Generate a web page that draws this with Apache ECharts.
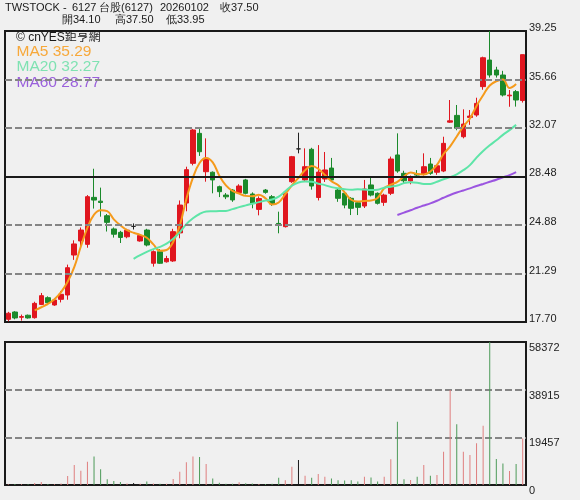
<!DOCTYPE html>
<html><head><meta charset="utf-8">
<script src="https://cdn.jsdelivr.net/npm/echarts@6/dist/echarts.min.js"></script>
<style>html,body{margin:0;padding:0;background:#f0f0f0;}#c{width:580px;height:500px;}</style>
</head><body><div id="c"></div>
<script>
// ---- data ----
const opens  = [17.90,18.44,18.05,18.20,18.02,19.00,19.50,18.96,19.38,19.70,22.66,23.70,23.45,26.93,26.65,25.57,24.59,24.34,24.01,24.78,23.70,24.51,22.05,22.91,22.16,22.22,24.30,26.51,29.45,31.67,28.83,28.79,27.72,27.10,27.47,27.28,28.22,27.18,26.04,27.47,26.98,25.00,24.76,28.09,30.52,28.22,30.49,26.92,28.29,29.10,27.47,27.23,26.86,26.53,26.29,27.85,27.23,26.56,27.23,30.07,28.71,28.14,28.65,28.64,29.40,28.79,28.88,32.50,33.00,31.42,32.85,33.03,35.13,37.10,36.36,35.99,34.45,34.76,34.10];
const closes = [18.35,18.00,18.10,18.00,19.08,19.65,19.13,19.33,19.75,21.72,23.48,24.51,26.98,26.73,26.55,25.08,24.20,23.96,24.50,24.78,24.10,23.40,22.91,22.05,22.40,24.39,26.36,28.98,31.92,30.31,29.82,28.22,27.35,26.97,26.74,27.77,27.23,26.49,26.84,27.30,26.44,24.95,27.23,29.94,30.52,29.20,27.77,28.80,28.96,28.22,26.86,26.36,26.12,26.19,27.55,27.10,26.49,27.10,29.77,28.88,28.16,28.46,28.58,29.20,28.71,29.27,30.93,32.60,32.05,32.36,32.95,33.89,37.27,35.99,35.99,34.51,34.50,34.14,37.50];
const highs  = [18.45,18.50,18.25,18.25,19.20,19.85,19.60,19.45,20.00,21.95,23.75,24.70,27.10,29.05,27.65,25.70,24.70,24.45,24.60,25.00,24.20,24.60,23.00,23.10,22.60,24.60,26.70,29.20,32.00,32.05,31.30,28.85,27.80,27.25,27.55,27.90,28.30,27.30,27.00,27.55,27.10,25.87,27.30,30.00,31.72,30.56,30.60,30.80,30.29,29.85,27.60,27.35,26.95,26.60,28.22,28.47,27.30,27.20,29.95,31.67,28.90,28.55,28.95,30.19,29.85,29.35,31.42,34.14,33.77,33.45,33.40,34.31,37.35,39.25,36.60,36.30,34.88,34.88,37.50];
const lows   = [17.75,17.90,17.80,17.95,17.95,18.95,18.95,18.90,19.15,19.35,22.30,23.25,23.20,26.10,25.50,24.40,23.95,23.55,23.90,24.55,23.65,23.30,21.80,22.00,22.10,22.15,23.90,25.90,29.30,30.00,28.09,27.23,26.95,26.80,26.60,27.20,27.15,26.12,25.60,27.20,26.30,24.27,24.70,28.00,30.19,28.10,27.50,26.70,28.07,28.07,26.60,26.12,25.62,25.62,26.14,27.00,26.40,26.30,27.10,28.75,28.00,27.90,28.40,28.55,28.60,28.60,28.80,32.45,31.90,31.30,32.30,32.90,34.90,35.80,35.80,34.40,33.64,33.65,33.95];
const volumes = [300,400,300,300,800,1200,400,300,600,3700,8200,5800,9500,11600,6400,2300,1600,1200,600,800,500,1400,600,500,500,2400,5400,9300,11600,11400,8600,2700,900,500,500,1100,700,600,400,400,500,3000,1900,7500,10200,3800,3000,4500,3400,2700,1900,1800,1900,1400,3400,3100,1400,3400,10500,25800,2300,2000,3400,8200,3800,4100,13600,38800,24800,13600,12200,17000,24200,58372,10600,8800,5700,8600,19000];
const priceTicks = [17.70, 21.29, 24.88, 28.48, 32.07, 35.66, 39.25];
const volTicks = [0, 19457, 38915, 58372];
const maPeriods = [5, 20, 60];
const maLegend = ['MA5 35.29', 'MA20 32.27', 'MA60 28.77'];
const header1 = [['TWSTOCK',5],['-',63],['6127',72],['台股(6127)',99],['20260102',160],['收37.50',220]];
const header2 = [['開34.10',62],['高37.50',115],['低33.95',166]];

const categories = opens.map((_, i) => String(i + 1));
const candleData = opens.map((o, i) => [o, closes[i], lows[i], highs[i]]);

// moving average (the source plots the value that includes the next session, one slot to the left)
function movingAverage(n) {
  return closes.map((_, j) => {
    if (j < n - 1 || j + 1 >= closes.length) return null;
    let s = 0;
    for (let k = j + 2 - n; k <= j + 1; k++) s += closes[k];
    return +(s / n).toFixed(3);
  });
}

const RED = '#e0161f', GREEN = '#1b8a2b', DOJI = '#222';
const maColors = ['#f59a1b', '#5ee5a8', '#9b55e0'];
const maTextColors = ['#f7a83a', '#7fe2b2', '#9a60dc'];

const chart = echarts.init(document.getElementById('c'), null, {renderer: 'canvas'});

const innerPrice = priceTicks.slice(1, -1);
const priceLines = innerPrice.map(v => ({
  yAxis: v,
  lineStyle: v === 28.48 ? {color: '#1a1a1a', width: 2, type: 'solid'} : {color: '#858585', width: 2, type: [7, 3]}
}));

const txt = (text, x, y, fill, font) => ({type: 'text', x, y, silent: true,
  style: {text, fill, font, verticalAlign: 'middle'}});

const graphics = [];
header1.forEach(([t, x]) => graphics.push(txt(t, x, 8, '#1a1a1a', '11px Arial, "Liberation Sans", sans-serif')));
header2.forEach(([t, x]) => graphics.push(txt(t, x, 19.5, '#1a1a1a', '11px Arial, "Liberation Sans", sans-serif')));
graphics.push(txt('© cnYES鉅亨網', 16, 37.5, '#1a1a1a', '12px Arial, "Liberation Sans", "Noto Sans CJK TC", sans-serif'));
maLegend.forEach((t, i) => graphics.push(txt(t, 16.5, 51.5 + i * 15.5, maTextColors[i], '15.5px Arial, "Liberation Sans", sans-serif')));

const option = {
  animation: false,
  backgroundColor: '#f0f0f0',
  grid: [
    {left: 5, right: 54, top: 31, height: 291, show: true, borderColor: '#1a1a1a', borderWidth: 2, backgroundColor: 'transparent'},
    {left: 5, right: 54, top: 342, height: 143, show: true, borderColor: '#1a1a1a', borderWidth: 2, backgroundColor: 'transparent'}
  ],
  xAxis: [
    {type: 'category', data: categories, gridIndex: 0, boundaryGap: true,
      axisLine: {show: false}, axisTick: {show: false}, axisLabel: {show: false}, splitLine: {show: false}},
    {type: 'category', data: categories, gridIndex: 1, boundaryGap: true,
      axisLine: {show: false}, axisTick: {show: false}, axisLabel: {show: false}, splitLine: {show: false}}
  ],
  yAxis: [
    {type: 'value', gridIndex: 0, position: 'right', min: priceTicks[0], max: priceTicks[priceTicks.length - 1],
      axisLine: {show: false}, axisTick: {show: false}, splitLine: {show: false},
      axisLabel: {show: true, customValues: priceTicks, formatter: v => Number(v).toFixed(2),
        margin: 3, fontSize: 11, color: '#222', fontFamily: 'Arial, "Liberation Sans", sans-serif',
        verticalAlign: 'bottom', lineHeight: 6}},
    {type: 'value', gridIndex: 1, position: 'right', min: 0, max: volTicks[3], interval: volTicks[3] / 3,
      axisLine: {show: false}, axisTick: {show: false},
      splitLine: {show: true, showMinLine: false, showMaxLine: false, lineStyle: {color: '#858585', width: 2, type: [7, 3]}},
      axisLabel: {show: true, formatter: v => String(Math.round(v)),
        margin: 3, fontSize: 11, color: '#222', fontFamily: 'Arial, "Liberation Sans", sans-serif',
        verticalAlign: 'top', lineHeight: 12}}
  ],
  graphic: graphics,
  series: [
    {type: 'candlestick', xAxisIndex: 0, yAxisIndex: 0, data: candleData, barWidth: 5,
      itemStyle: {color: RED, color0: GREEN, borderColor: RED, borderColor0: GREEN, borderColorDoji: DOJI, borderWidth: 1},
      markLine: {silent: true, symbol: 'none', label: {show: false}, animation: false, data: priceLines},
      z: 3},
    ...maPeriods.map((n, i) => ({
      type: 'line', xAxisIndex: 0, yAxisIndex: 0, data: movingAverage(n), showSymbol: false, smooth: 0.4,
      lineStyle: {color: maColors[i], width: 2}, itemStyle: {color: maColors[i]}, z: 4, silent: true
    })),
    {type: 'bar', xAxisIndex: 1, yAxisIndex: 1, data: volumes, barWidth: 1,
      itemStyle: {color: p => {
        const i = p.dataIndex;
        return closes[i] > opens[i] ? '#df7f7f' : closes[i] < opens[i] ? '#4c9a58' : '#1a1a1a';
      }}}
  ]
};
chart.setOption(option);
</script>
</body></html>
